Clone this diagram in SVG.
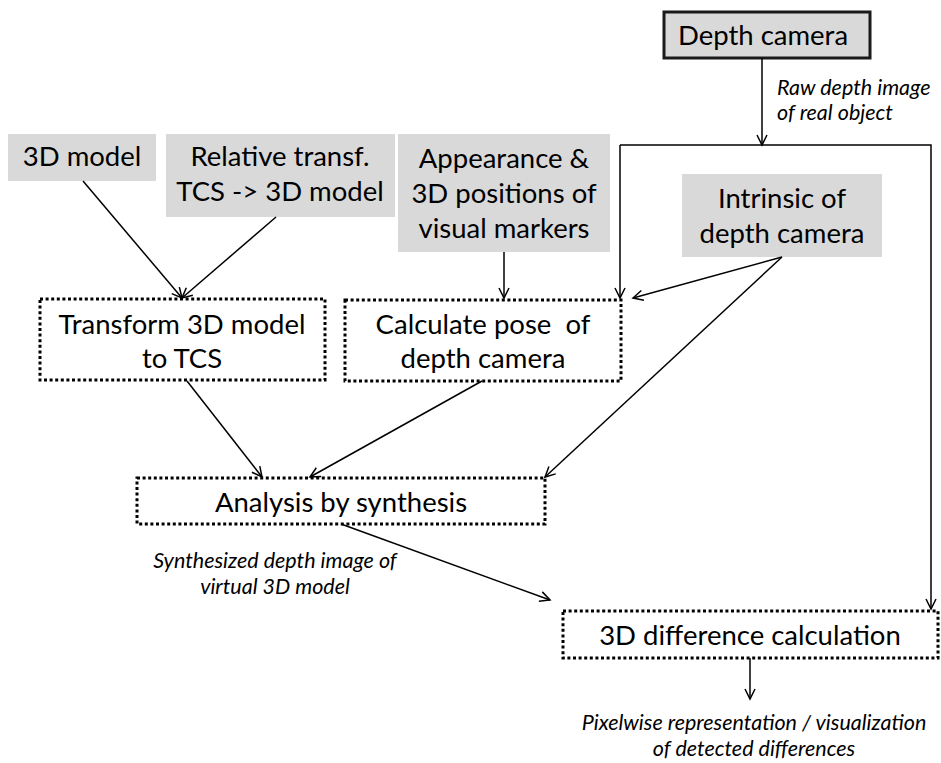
<svg xmlns="http://www.w3.org/2000/svg" width="941" height="763" viewBox="0 0 941 763">
<style>
.g{fill:#d9d9d9;stroke:none}
.d{fill:none;stroke:#000;stroke-width:3;stroke-dasharray:3 2.6}
.t{font-family:Lato,"Open Sans","DejaVu Sans",sans-serif;font-size:27.5px;fill:#000;text-anchor:middle}
.i{font-family:Lato,"Open Sans","DejaVu Sans",sans-serif;font-size:21.5px;font-style:italic;fill:#000}
.c line,.c path{stroke:#000;stroke-width:1.5;fill:none}
</style>
<defs>
<marker id="a" markerUnits="userSpaceOnUse" markerWidth="14" markerHeight="14" refX="11" refY="6" orient="auto">
<path d="M1,1 L11,6 L1,11" fill="none" stroke="#000" stroke-width="1.5"/>
</marker>
</defs>
<rect width="941" height="763" fill="#fff"/>
<g id="depth-camera">
<rect x="664" y="12" width="206" height="46" fill="#d9d9d9" stroke="#1a1a1a" stroke-width="3"/>
<text class="t" x="763" y="45">Depth camera</text>
</g>
<g id="model3d">
<rect class="g" x="8" y="134" width="148" height="47"/>
<text class="t" x="82" y="166">3D model</text>
</g>
<g id="relative">
<rect class="g" x="166" y="134" width="229" height="83"/>
<text class="t" x="280" y="166">Relative transf.</text>
<text class="t" x="280" y="201">TCS -&gt; 3D model</text>
</g>
<g id="appearance">
<rect class="g" x="398" y="134" width="212" height="118"/>
<text class="t" x="504" y="168">Appearance &amp;</text>
<text class="t" x="504" y="203">3D positions of</text>
<text class="t" x="504" y="238">visual markers</text>
</g>
<g id="intrinsic">
<rect class="g" x="682" y="174" width="200" height="83"/>
<text class="t" x="782" y="208">Intrinsic of</text>
<text class="t" x="782" y="243">depth camera</text>
</g>
<g id="transform">
<rect class="d" x="40" y="299" width="285" height="81"/>
<text class="t" x="182" y="334">Transform 3D model</text>
<text class="t" x="182" y="368">to TCS</text>
</g>
<g id="calculate">
<rect class="d" x="345" y="300" width="276" height="81"/>
<text class="t" x="483" y="334" xml:space="preserve">Calculate pose  of</text>
<text class="t" x="483" y="368">depth camera</text>
</g>
<g id="analysis">
<rect class="d" x="137" y="478" width="408" height="46"/>
<text class="t" x="341" y="512">Analysis by synthesis</text>
</g>
<g id="difference">
<rect class="d" x="563" y="611" width="375" height="47"/>
<text class="t" x="750" y="645">3D difference calculation</text>
</g>
<g id="labels">
<text class="i" x="777" y="95">Raw depth image</text>
<text class="i" x="777" y="120">of real object</text>
<text class="i" x="275" y="568" text-anchor="middle">Synthesized depth image of</text>
<text class="i" x="275" y="594" text-anchor="middle">virtual 3D model</text>
<text class="i" x="754" y="730" text-anchor="middle">Pixelwise representation / visualization</text>
<text class="i" x="754" y="756" text-anchor="middle">of detected differences</text>
</g>
<g id="connectors" class="c">
<line x1="83" y1="181" x2="182" y2="298" marker-end="url(#a)"/>
<line x1="276" y1="217" x2="182" y2="298" marker-end="url(#a)"/>
<line x1="504" y1="252" x2="504" y2="298" marker-end="url(#a)"/>
<line x1="762" y1="58" x2="762" y2="145" marker-end="url(#a)"/>
<path d="M620,145 L931,145 L931,609" marker-end="url(#a)"/>
<line x1="620" y1="145" x2="620" y2="298" marker-end="url(#a)"/>
<line x1="782" y1="257" x2="633" y2="298" marker-end="url(#a)"/>
<line x1="782" y1="257" x2="545" y2="477" marker-end="url(#a)"/>
<line x1="187" y1="381" x2="262" y2="477" marker-end="url(#a)"/>
<line x1="482" y1="381" x2="310" y2="477" marker-end="url(#a)"/>
<line x1="341" y1="524" x2="550" y2="600" marker-end="url(#a)"/>
<line x1="750" y1="658" x2="750" y2="699" marker-end="url(#a)"/>
</g>
</svg>
